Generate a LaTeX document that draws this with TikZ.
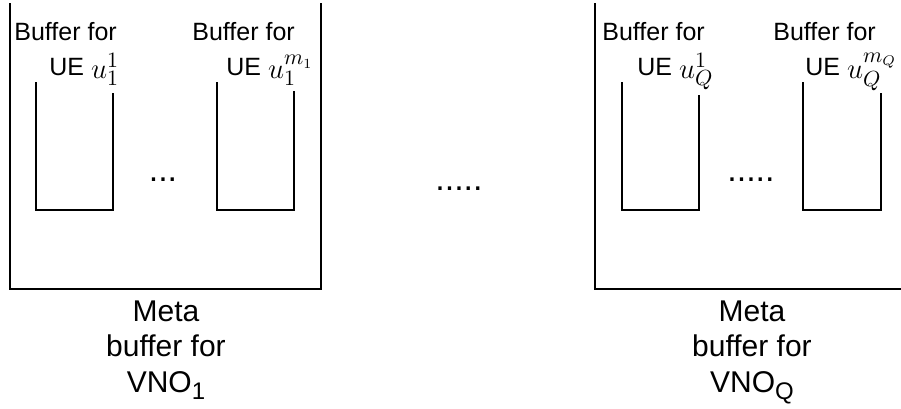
\documentclass[tikz,border=0pt]{standalone}
\usepackage{fontspec}
\setmainfont{Liberation Sans}
% user index written a little larger than the surrounding text
\newcommand{\uidx}[1]{\raisebox{-1.5pt}{\fontsize{15}{15}\selectfont$#1$}}
\begin{document}
\begin{tikzpicture}[x=0.5pt,y=-0.5pt,
  wall/.style={line width=1.2pt,line join=miter},
  queue/.style={line width=1.1pt,line join=miter},
  uelabel/.style={anchor=base west,inner sep=0pt,font=\fontsize{12.5}{14}\selectfont},
  metalabel/.style={anchor=north,inner sep=0pt,align=center,font=\fontsize{15}{17.75}\selectfont},
  gap/.style={inner sep=0pt,font=\fontsize{17}{17}\selectfont}]
\useasboundingbox (0,0) rectangle (901,408);

% meta buffer of the first VNO
\draw[wall] (10,3) -- (10,289) -- (321,289) -- (321,3);
\draw[queue] (36,82) -- (36,210) -- (113,210) -- (113,93);
\draw[queue] (217,82) -- (217,210) -- (294,210) -- (294,91);
\node[uelabel] (b11a) at (14,40) {Buffer for};
\node[uelabel] (b11b) at (49,75) {UE \uidx{u_1^1}};
\node[uelabel] (b1ma) at (192,40) {Buffer for};
\node[uelabel] (b1mb) at (226,75) {UE \uidx{u_1^{m_1}}};
\node[gap,anchor=base] (dots1) at (163,181) {...};
\node[metalabel] (meta1) at (166,300) {Meta\\buffer for\\VNO\raisebox{-3.5pt}{\fontsize{12}{12}\selectfont 1}};

% gap between the VNOs
\node[gap,anchor=base] (dotsmid) at (459,190) {.....};

% meta buffer of the last VNO
\draw[wall] (595,3) -- (595,289) -- (905,289) -- (905,3);
\draw[queue] (622,82) -- (622,210) -- (699,210) -- (699,95);
\draw[queue] (803,82) -- (803,210) -- (881,210) -- (881,93);
\node[uelabel] (bq1a) at (602,40) {Buffer for};
\node[uelabel] (bq1b) at (637,75) {UE \uidx{u_Q^1}};
\node[uelabel] (bqma) at (773,40) {Buffer for};
\node[uelabel] (bqmb) at (805,75) {UE \uidx{u_Q^{m_Q}}};
\node[gap,anchor=base] (dotsq) at (751,181) {.....};
\node[metalabel] (metaq) at (752,300) {Meta\\buffer for\\VNO\raisebox{-3.5pt}{\fontsize{12}{12}\selectfont Q}};
\end{tikzpicture}
\end{document}
